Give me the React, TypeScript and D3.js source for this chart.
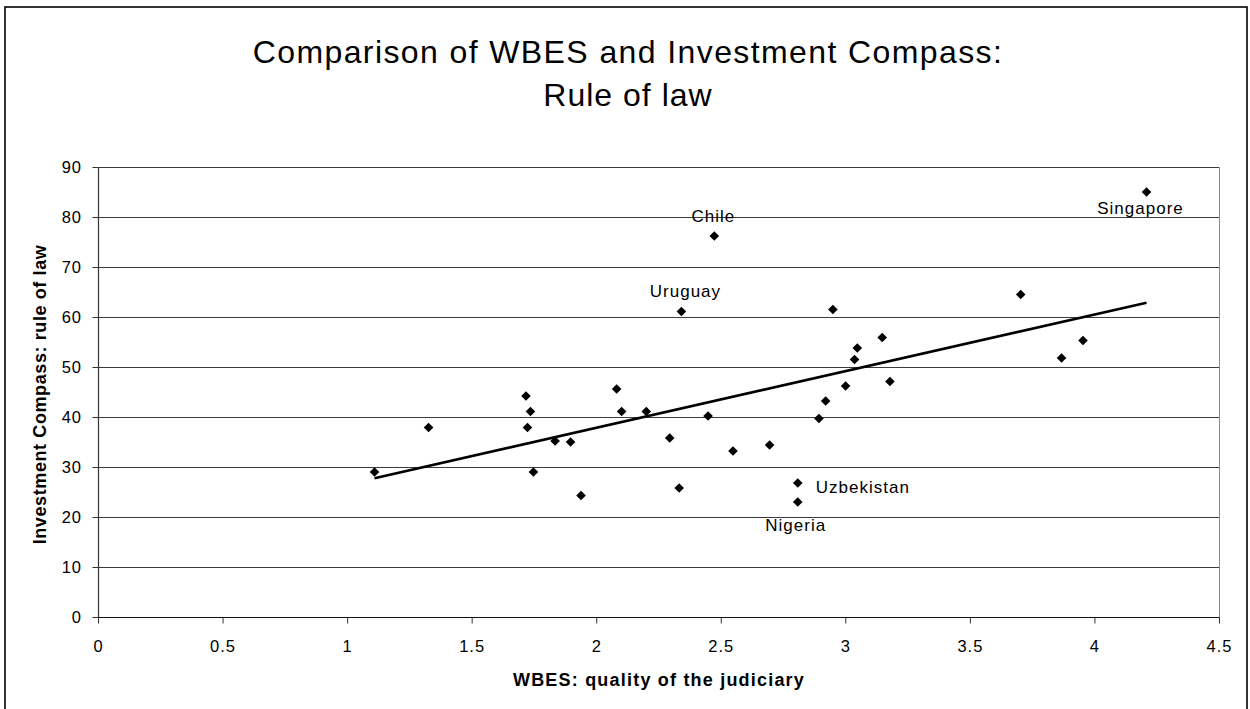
import React from 'react';
import * as d3 from 'd3';

// ---- data ----
const wbes = [
  1.108, 1.325, 1.716, 1.734, 1.722, 1.746, 1.833, 1.895, 1.937, 2.08, 2.1,
  2.199, 2.34, 2.948, 3.146, 3.046, 3.035, 3.177, 2.999, 2.919, 2.892, 2.293,
  2.447, 2.547, 2.694, 2.331, 2.807, 2.807, 2.472, 4.207, 3.702, 3.952, 3.866,
];
const compass = [
  29.1, 38.0, 44.3, 41.2, 38.0, 29.1, 35.3, 35.1, 24.4, 45.7, 41.2, 41.2, 61.2,
  61.6, 56.0, 53.9, 51.6, 47.2, 46.3, 43.3, 39.8, 35.9, 40.3, 33.3, 34.5, 25.9,
  26.9, 23.1, 76.3, 85.1, 64.6, 55.4, 51.9,
];
const country = [
  '', '', '', '', '', '', '', '', '', '', '', '', 'Uruguay', '', '', '', '', '',
  '', '', '', '', '', '', '', '', 'Uzbekistan', 'Nigeria', 'Chile', 'Singapore',
  '', '', '',
];
const xTicks = [0, 0.5, 1, 1.5, 2, 2.5, 3, 3.5, 4, 4.5];
const yTicks = [0, 10, 20, 30, 40, 50, 60, 70, 80, 90];
const titleLines = ['Comparison of WBES and Investment Compass:', 'Rule of law'];
const xTitle = 'WBES: quality of the judiciary';
const yTitle = 'Investment Compass: rule of law';

// label placement relative to its point
const labelPlace: Record<string, { dx: number; dy: number; anchor: string }> = {
  Chile: { dx: -1, dy: -14, anchor: 'middle' },
  Uruguay: { dx: 4, dy: -14.6, anchor: 'middle' },
  Singapore: { dx: -6, dy: 22.3, anchor: 'middle' },
  Uzbekistan: { dx: 18, dy: 10, anchor: 'start' },
  Nigeria: { dx: -2, dy: 28.7, anchor: 'middle' },
};

const FONT = '"Liberation Sans", Arial, Helvetica, sans-serif';

export default function App() {
  const W = 1250;
  const H = 709;
  const left = 98.5;
  const right = 1219.5;
  const top = 167.5;
  const bottom = 617.5;

  const x = d3.scaleLinear().domain([0, 4.5]).range([left, right]);
  const y = d3.scaleLinear().domain([0, 90]).range([bottom, top]);

  const pts = wbes.map((v, i) => ({ x: v, y: compass[i], name: country[i] }));

  // least squares trend line
  const mx = d3.mean(wbes) as number;
  const my = d3.mean(compass) as number;
  let sxy = 0;
  let sxx = 0;
  pts.forEach((p) => {
    sxy += (p.x - mx) * (p.y - my);
    sxx += (p.x - mx) * (p.x - mx);
  });
  const slope = sxy / sxx;
  const icpt = my - slope * mx;
  const [x0, x1] = d3.extent(wbes) as [number, number];
  const trend = d3.line<number>()
    .x((d) => x(d))
    .y((d) => y(icpt + slope * d))([x0, x1]);

  const r = 4.8;
  const diamond = `M0,${-r}L${r},0L0,${r}L${-r},0Z`;

  return (
    <svg
      width={W}
      height={H}
      style={{ position: 'absolute', left: 0, top: 0, display: 'block', background: '#fff' }}
      fontFamily={FONT}
    >
      <rect x={0} y={0} width={W} height={H} fill="#fff" />
      {/* chart border */}
      <rect x={5} y={7} width={1242} height={710} fill="none" stroke="#000" strokeWidth={1.6} />

      {/* title */}
      {titleLines.map((t, i) => (
        <text
          key={t}
          x={628}
          y={i === 0 ? 63 : 106}
          textAnchor="middle"
          fontSize={32}
          letterSpacing={i === 0 ? 1.4 : 1}
          fill="#000"
        >
          {t}
        </text>
      ))}

      {/* gridlines */}
      {yTicks.filter((t) => t > 0).map((t) => (
        <line key={'g' + t} x1={left} x2={right} y1={y(t)} y2={y(t)} stroke="#3c3c3c" strokeWidth={1} />
      ))}
      {/* plot area right border */}
      <line x1={right} x2={right} y1={top} y2={bottom} stroke="#8c8c8c" strokeWidth={1} />

      {/* axes */}
      <line x1={left} x2={left} y1={top} y2={bottom} stroke="#333" strokeWidth={1.2} />
      <line x1={left} x2={right} y1={bottom} y2={bottom} stroke="#111" strokeWidth={1.2} />
      {yTicks.map((t) => (
        <g key={'y' + t}>
          <line x1={left - 6} x2={left} y1={y(t)} y2={y(t)} stroke="#333" />
          <text x={82} y={y(t)} dy="0.36em" textAnchor="end" fontSize={16.5} letterSpacing={1} fill="#000">
            {t}
          </text>
        </g>
      ))}
      {xTicks.map((t) => (
        <g key={'x' + t}>
          <line x1={x(t)} x2={x(t)} y1={bottom} y2={bottom + 6} stroke="#333" />
          <text x={x(t)} y={652} textAnchor="middle" fontSize={16.5} letterSpacing={1} fill="#000">
            {t}
          </text>
        </g>
      ))}

      {/* axis titles */}
      <text x={659} y={686} textAnchor="middle" fontSize={18} fontWeight="bold" letterSpacing={1.2} fill="#000">
        {xTitle}
      </text>
      <text
        transform={`translate(46,${(top + bottom) / 2 + 2}) rotate(-90)`}
        textAnchor="middle"
        fontSize={18}
        fontWeight="bold"
        letterSpacing={0.6}
        fill="#000"
      >
        {yTitle}
      </text>

      {/* trend line */}
      <path d={trend || ''} fill="none" stroke="#000" strokeWidth={2.6} />

      {/* points */}
      {pts.map((p, i) => (
        <path key={'p' + i} d={diamond} transform={`translate(${x(p.x)},${y(p.y)})`} fill="#000" />
      ))}

      {/* country labels */}
      {pts.filter((p) => p.name).map((p) => {
        const lp = labelPlace[p.name];
        return (
          <text
            key={'l' + p.name}
            x={x(p.x) + lp.dx}
            y={y(p.y) + lp.dy}
            textAnchor={lp.anchor}
            fontSize={17}
            letterSpacing={1}
            fill="#000"
          >
            {p.name}
          </text>
        );
      })}
    </svg>
  );
}
